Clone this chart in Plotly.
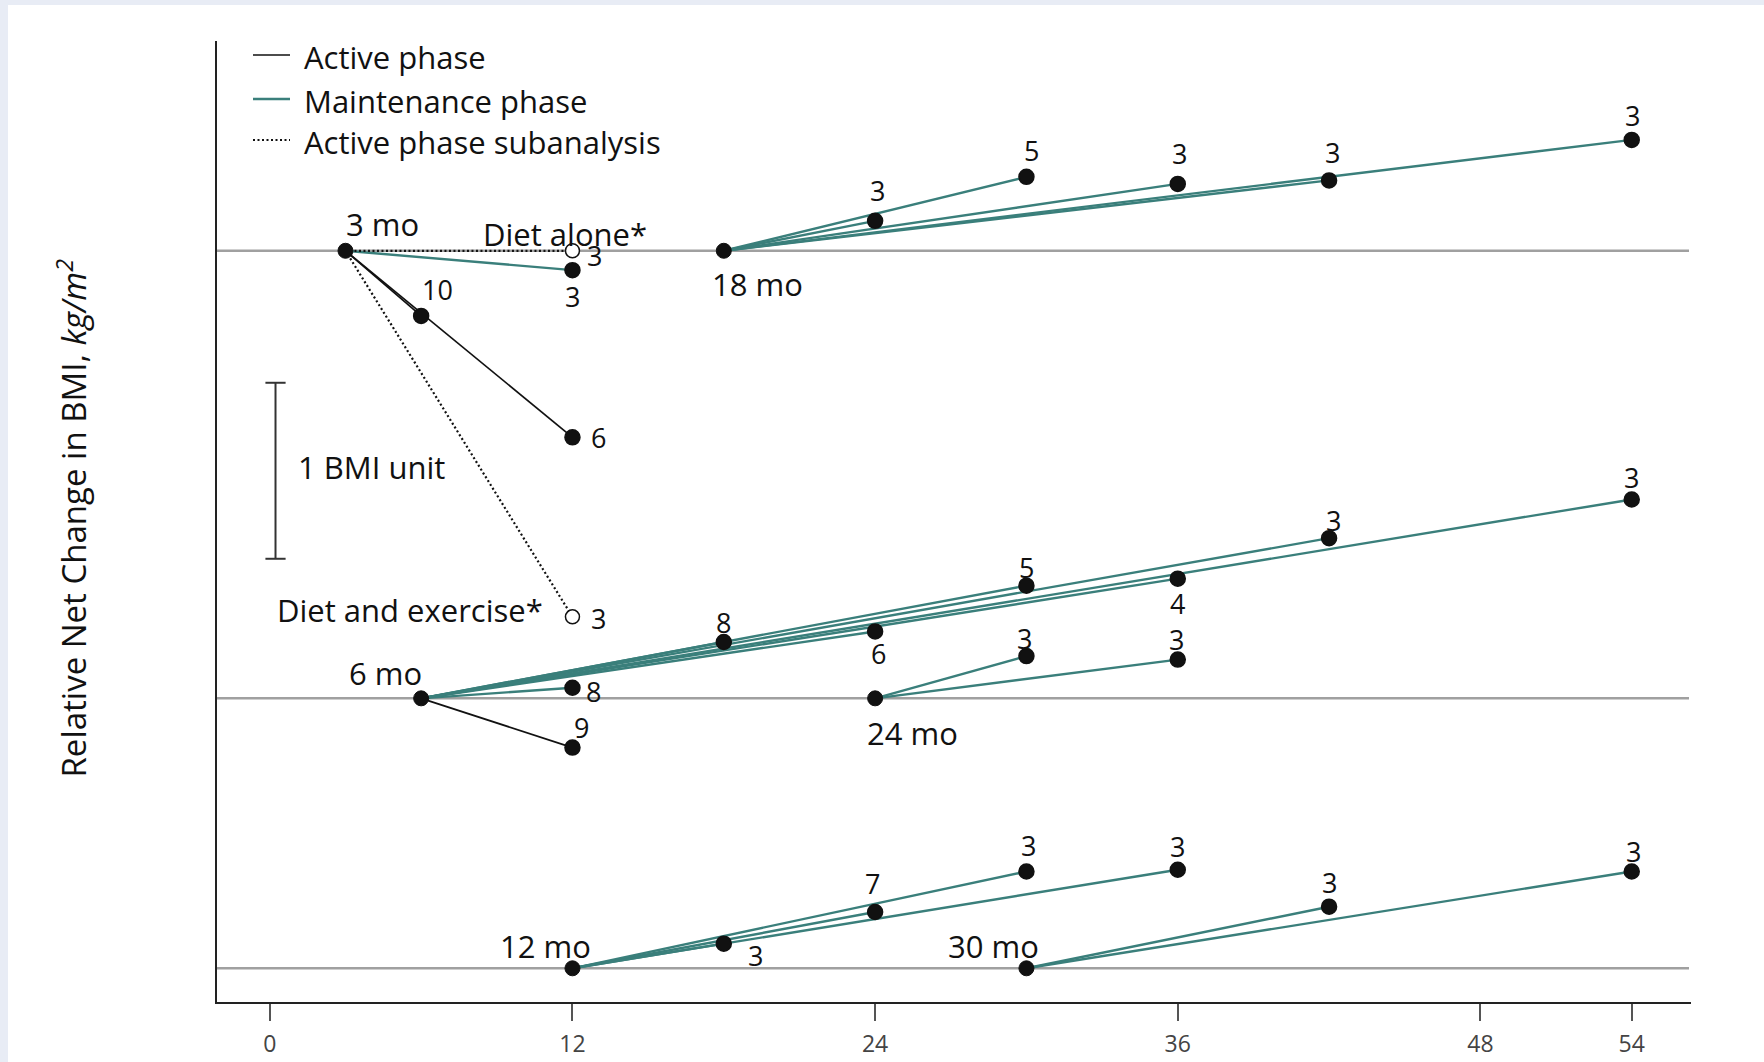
import plotly.graph_objects as go

# ---- data -------------------------------------------------------------
# Each segment joins the start of a phase (month) to a later follow-up (month)
seg_start = [3, 3, 3, 3, 3,
             18, 18, 18, 18, 18,
             6, 6, 6, 6, 6, 6, 6, 6,
             24, 24,
             12, 12, 12, 12,
             30, 30]
seg_end = [6, 12, 12, 12, 12,
           24, 30, 36, 42, 54,
           12, 12, 18, 24, 30, 36, 42, 54,
           30, 36,
           18, 24, 30, 36,
           42, 54]
# relative net change in BMI (kg/m^2) at the follow-up point
bmi_change = [-0.37, -1.06, -0.11, 0.00, -2.08,
              0.17, 0.42, 0.38, 0.40, 0.63,
              -0.28, 0.06, 0.32, 0.38, 0.64, 0.68, 0.91, 1.13,
              0.24, 0.22,
              0.14, 0.32, 0.55, 0.56,
              0.35, 0.55]
# number of studies contributing to each estimate
n_studies = [10, 6, 3, 3, 3,
             3, 5, 3, 3, 3,
             9, 8, 8, 6, 5, 4, 3, 3,
             3, 3,
             3, 7, 3, 3,
             3, 3]
phase = ["Active", "Active", "Maintenance", "Subanalysis", "Subanalysis",
         "Maintenance", "Maintenance", "Maintenance", "Maintenance", "Maintenance",
         "Active", "Maintenance", "Maintenance", "Maintenance", "Maintenance",
         "Maintenance", "Maintenance", "Maintenance",
         "Maintenance", "Maintenance",
         "Maintenance", "Maintenance", "Maintenance", "Maintenance",
         "Maintenance", "Maintenance"]
subgroup_names = {3: "Diet alone*", 4: "Diet and exercise*"}

start_months = [3, 18, 6, 24, 12, 30]
start_labels = ["3 mo", "18 mo", "6 mo", "24 mo", "12 mo", "30 mo"]

tick_vals = [0, 12, 24, 36, 48, 54]
tick_text = ["0", "12", "24", "36", "48", "54"]

legend_names = ["Active phase", "Maintenance phase", "Active phase subanalysis"]

# ---- layout constants -------------------------------------------------
W, H = 1764, 1062
L, R, T, B = 217, 73, 41, 60
X_RANGE = [-2.094, 56.35]
Y_RANGE = [-0.1915, 5.269]

# vertical offset (BMI units) of the baseline each phase start is drawn on
row_offset = {3: 4.077, 18: 4.077, 6: 1.534, 24: 1.534, 12: 0.0, 30: 0.0}

TEAL = "#3a7f7b"
INK = "#111111"
FONT = "Open Sans"

line_style = {
    "Active": dict(color=INK, width=1.7),
    "Maintenance": dict(color=TEAL, width=2.4),
    "Subanalysis": dict(color=INK, width=2.2, dash="2px,2.5px"),
}

# pixel offsets (x right, y up) of each n label from its point
label_shift = [(16, 26), (26, 0), (0, -26), (22, -5), (26, -2),
               (2, 30), (5, 26), (2, 30), (3, 28), (1, 24),
               (9, 20), (21, -4), (0, 20), (3, -22), (0, 18), (0, -25), (4, 18), (0, 22),
               (-2, 18), (-1, 20),
               (32, -12), (-3, 28), (2, 26), (0, 23),
               (0, 24), (2, 20)]
start_label_shift = {3: (37, 27), 18: (34, -33), 6: (-36, 25),
                     24: (37, -35), 12: (-27, 22), 30: (-33, 22)}

plot_w = W - L - R
plot_h = H - T - B


def px_x(px):
    return (px - L) / plot_w


def px_y(py):
    return (H - B - py) / plot_h


fig = go.Figure()

# segments
for s, e, v, ph in zip(seg_start, seg_end, bmi_change, phase):
    base = row_offset[s]
    fig.add_trace(go.Scatter(
        x=[s, e], y=[base, base + v], mode="lines",
        line=line_style[ph], hoverinfo="skip", showlegend=False))

# end points: filled for pooled estimates, open for the subanalysis
end_x = [e for e in seg_end]
end_y = [row_offset[s] + v for s, v in zip(seg_start, bmi_change)]
end_fill = ["white" if ph == "Subanalysis" else INK for ph in phase]
end_size = [14 if ph == "Subanalysis" else 15 for ph in phase]
fig.add_trace(go.Scatter(
    x=end_x, y=end_y, mode="markers",
    marker=dict(size=end_size, color=end_fill, opacity=1,
                line=dict(color=INK, width=1.5)),
    showlegend=False, hoverinfo="skip"))

# start points of each phase
fig.add_trace(go.Scatter(
    x=start_months, y=[row_offset[m] for m in start_months], mode="markers",
    marker=dict(size=15, color=INK, opacity=1, line=dict(color=INK, width=1)),
    showlegend=False, hoverinfo="skip"))

annotations = []
# n labels
for i, (s, e, v, n) in enumerate(zip(seg_start, seg_end, bmi_change, n_studies)):
    dx, dy = label_shift[i]
    annotations.append(dict(
        x=e, y=row_offset[s] + v, text=str(n), showarrow=False,
        xshift=dx, yshift=dy, xanchor="center", yanchor="middle",
        font=dict(family=FONT, size=27, color=INK)))

# phase start labels
for m, lab in zip(start_months, start_labels):
    dx, dy = start_label_shift[m]
    annotations.append(dict(
        x=m, y=row_offset[m], text=lab, showarrow=False,
        xshift=dx, yshift=dy, xanchor="center", yanchor="middle",
        font=dict(family=FONT, size=31, color=INK)))

# subanalysis labels
annotations.append(dict(
    x=seg_end[3], y=row_offset[seg_start[3]] + bmi_change[3], text=subgroup_names[3],
    showarrow=False, xshift=-7, yshift=17, xanchor="center", yanchor="middle",
    font=dict(family=FONT, size=31, color=INK)))
annotations.append(dict(
    x=seg_end[4], y=row_offset[seg_start[4]] + bmi_change[4], text=subgroup_names[4],
    showarrow=False, xshift=-27, yshift=7, xanchor="right", yanchor="middle",
    font=dict(family=FONT, size=31, color=INK)))

# scale bar: one BMI unit
bar_x, bar_lo = 0.226, 2.327
annotations.append(dict(
    x=1.02, y=bar_lo + 0.52, text="1 BMI unit", showarrow=False,
    xanchor="left", yanchor="middle", font=dict(family=FONT, size=31, color=INK)))

# axis title
annotations.append(dict(
    xref="paper", yref="paper", x=px_x(72), y=px_y(518.5),
    text="Relative Net Change in BMI, <i>kg/m<sup>2</sup></i>",
    textangle=-90, showarrow=False, xanchor="center", yanchor="middle",
    font=dict(family=FONT, size=33, color=INK)))

shapes = [
    # page panel
    dict(type="rect", xref="paper", yref="paper", layer="below",
         x0=px_x(8), x1=px_x(W + 5), y0=px_y(5), y1=px_y(H + 5),
         fillcolor="white", line=dict(width=0)),
]
# baselines of the three rows
for off in sorted(set(row_offset.values())):
    shapes.append(dict(type="line", xref="paper", yref="y", layer="below",
                       x0=0, x1=px_x(1689), y0=off, y1=off,
                       line=dict(color="#a0a0a0", width=2.5)))
# scale bar
shapes += [
    dict(type="line", xref="x", yref="y", x0=bar_x, x1=bar_x, y0=bar_lo, y1=bar_lo + 1,
         line=dict(color="#333", width=2)),
    dict(type="line", xref="x", yref="y", x0=bar_x - 0.4, x1=bar_x + 0.4,
         y0=bar_lo, y1=bar_lo, line=dict(color="#333", width=2)),
    dict(type="line", xref="x", yref="y", x0=bar_x - 0.4, x1=bar_x + 0.4,
         y0=bar_lo + 1, y1=bar_lo + 1, line=dict(color="#333", width=2)),
]

# legend drawn as line samples with text
legend_rows = [55, 99, 140]
legend_styles = [line_style["Active"], line_style["Maintenance"], line_style["Subanalysis"]]
for name, yrow, st in zip(legend_names, legend_rows, legend_styles):
    shapes.append(dict(type="line", xref="paper", yref="paper",
                       x0=px_x(253), x1=px_x(290), y0=px_y(yrow), y1=px_y(yrow),
                       line=st))
    annotations.append(dict(
        xref="paper", yref="paper", x=px_x(302), y=px_y(yrow + 2), text=name,
        showarrow=False, xanchor="left", yanchor="middle",
        font=dict(family=FONT, size=31, color=INK)))

fig.update_layout(
    width=W, height=H,
    margin=dict(l=L, r=R, t=T, b=B, pad=0, autoexpand=False),
    paper_bgcolor="#e8ecf5",
    plot_bgcolor="white",
    showlegend=False,
    shapes=shapes,
    annotations=annotations,
    xaxis=dict(range=X_RANGE, tickvals=tick_vals, ticktext=tick_text,
               automargin=False,
               showgrid=False, zeroline=False, showline=True,
               linecolor="#222", linewidth=2,
               ticks="outside", ticklen=17, tickwidth=2, tickcolor="#555",
               ticklabelstandoff=3,
               tickfont=dict(family=FONT, size=23, color="#444")),
    yaxis=dict(range=Y_RANGE, automargin=False,
               showgrid=False, zeroline=False, showline=True,
               linecolor="#222", linewidth=2, showticklabels=False, ticks=""),
)

fig.write_html("out.html")
